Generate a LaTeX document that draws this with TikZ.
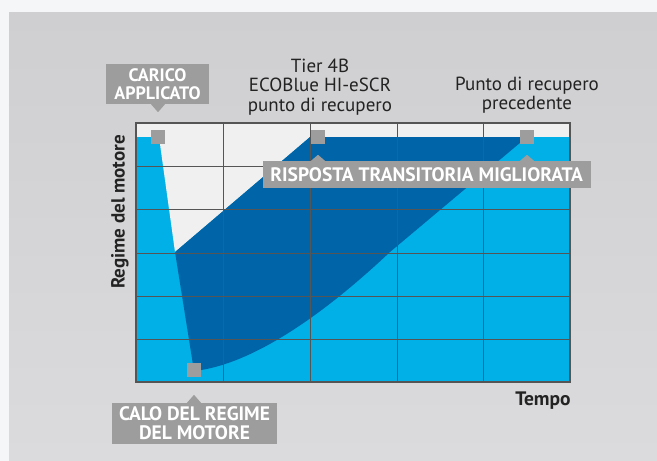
\documentclass[tikz,border=0pt]{standalone}
\usepackage{fontspec}
\setmainfont{PT Sans}

\definecolor{lightblue}{RGB}{0,176,230}
\definecolor{darkblue}{RGB}{0,100,168}
\definecolor{markgray}{RGB}{157,157,157}
\definecolor{gridgray}{RGB}{85,85,85}
\definecolor{txtgray}{RGB}{35,35,35}
\definecolor{plotbg}{RGB}{241,240,240}
\definecolor{outerbg}{RGB}{244,246,247}
\definecolor{paneltop}{RGB}{207,206,208}
\definecolor{panelmid}{RGB}{227,226,228}
\definecolor{panelbot}{RGB}{219,219,221}

\begin{document}
\begin{tikzpicture}[x=1pt,y=-1pt,
  sq/.style={fill=markgray, minimum size=14pt, inner sep=0pt},
  lab/.style={fill=markgray, text=white, font=\bfseries\fontsize{19.5}{19}\selectfont, align=center, inner sep=0pt},
  ttl/.style={text=txtgray, font=\fontsize{19}{19.5}\selectfont, align=center}]

\fill[outerbg] (0,0) rectangle (657,461);
\shade[top color=paneltop, middle color=panelmid, bottom color=panelbot] (9,12) rectangle (657,461);

% plot area
\fill[plotbg] (136,123) rectangle (570,382);
\fill[lightblue] (136,137) rectangle (570,382);
\fill[plotbg] (159,137) -- (310,137) -- (175,252) -- cycle;
\fill[darkblue] (175,252) -- (310,137) -- (527,137) -- (390,252) .. controls (320,318) and (250,365) .. (194,371) -- cycle;

\foreach \x in {223,310,397,483}
  \draw[gridgray, line width=0.9pt] (\x,123) -- (\x,382);
\foreach \y in {166,209,253,296,339}
  \draw[gridgray, line width=0.9pt] (136,\y) -- (570,\y);
\draw[gridgray, line width=1.3pt] (136,123) rectangle (570,382);
\draw[gridgray, line width=2.6pt] (136,123) -- (136,382) -- (570,382);

\node[sq] (m1) at (158,137) {};
\node[sq] (m2) at (318,137) {};
\node[sq] (m3) at (527,137) {};
\node[sq] (m4) at (194,370) {};

\node[ttl] (tier) at (320,87) {Tier 4B\\ECOBlue HI-eSCR\\punto di recupero};
\node[ttl] (prec) at (527,95) {Punto di recupero\\precedente};

\node[lab, font=\bfseries\fontsize{18}{18.5}\selectfont, minimum width=103pt, minimum height=40pt] (carico) at (157.5,84) {CARICO\\APPLICATO};
\node[lab, minimum width=328pt, minimum height=27pt] (risposta) at (426.7,174.5) {RISPOSTA TRANSITORIA MIGLIORATA};
\node[lab, minimum width=165pt, minimum height=41pt] (calo) at (194.5,423.5) {CALO DEL REGIME\\DEL MOTORE};

% pointers
\fill[markgray] (carico.south -| m1) ++(-7,0) -- ++(14,0) -- ++(-7,8) -- cycle;
\fill[markgray] (risposta.north -| m2) ++(-7,0) -- ++(14,0) -- ++(-7,-6) -- cycle;
\fill[markgray] (risposta.north -| m3) ++(-7,0) -- ++(14,0) -- ++(-7,-6) -- cycle;
\fill[markgray] (calo.north -| m4) ++(-7,0) -- ++(14,0) -- ++(-7,-8) -- cycle;

\node[rotate=90, text=txtgray, font=\bfseries\fontsize{19}{20}\selectfont] (ylab) at (120,212) {Regime del motore};
\node[text=txtgray, font=\bfseries\fontsize{19.5}{20}\selectfont] (xlab) at (543,401) {Tempo};
\end{tikzpicture}
\end{document}
